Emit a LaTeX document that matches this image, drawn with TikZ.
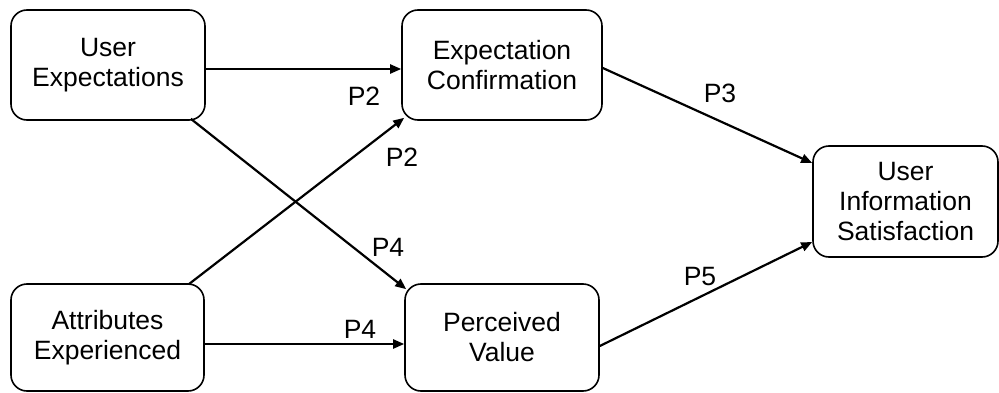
\documentclass[tikz,border=0pt]{standalone}
\usepackage{fontspec}
\setmainfont{Liberation Sans}
\usetikzlibrary{arrows.meta,calc}
\begin{document}
\begin{tikzpicture}[x=1pt,y=1pt,
  box/.style={draw=black,line width=1.6pt,rounded corners=16pt,align=center,
    font=\fontsize{26.5}{30}\selectfont,inner sep=0pt},
  conn/.style={line width=2.2pt,-{Triangle[length=11pt,width=9pt]}},
  lbl/.style={inner sep=0pt,font=\fontsize{26.5}{30}\selectfont}]
\useasboundingbox (0,0) rectangle (999,392);
\node[box,minimum width=194pt,minimum height=110pt] (UE) at (108,327) {User\\Expectations};
\node[box,minimum width=200pt,minimum height=110pt] (EC) at (502,327) {Expectation\\Confirmation};
\node[box,minimum width=193pt,minimum height=107pt] (AE) at (107.5,54.5) {Attributes\\Experienced};
\node[box,minimum width=194pt,minimum height=107pt] (PV) at (502,54.5) {Perceived\\Value};
\node[box,minimum width=185pt,minimum height=111pt] (UIS) at (905.5,190.5) {User\\Information\\Satisfaction};
\draw[conn] ([yshift=-4pt]UE.east) -- ([yshift=-4pt]EC.west);
\draw[conn] ($(UE.south east)+(-15,2)$) -- ($(PV.north west)+(2,-6)$);
\draw[conn] ($(AE.north east)+(-16,-1)$) -- ($(EC.south west)+(3,3)$);
\draw[conn] ([yshift=-6.5pt]AE.east) -- ([yshift=-6.5pt]PV.west);
\draw[conn] ([yshift=-3pt]EC.east) -- ([yshift=38.5pt]UIS.west);
\draw[conn] ([yshift=-8.5pt]PV.east) -- ([yshift=-40.5pt]UIS.west);
\node[lbl] (l1) at (364,296) {P2};
\node[lbl] (l2) at (402,235) {P2};
\node[lbl] (l3) at (388,145) {P4};
\node[lbl] (l4) at (360,63) {P4};
\node[lbl] (l5) at (720,299) {P3};
\node[lbl] (l6) at (700,115) {P5};
\end{tikzpicture}
\end{document}
